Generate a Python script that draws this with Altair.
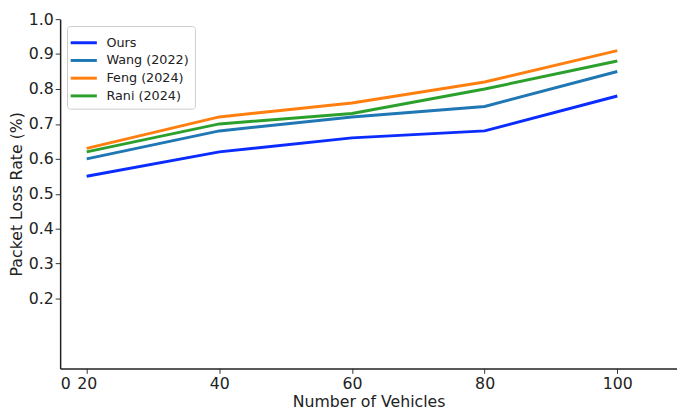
import altair as alt
import pandas as pd

vehicles = [20, 40, 60, 80, 100]
series_names = ["Ours", "Wang (2022)", "Feng (2024)", "Rani (2024)"]
ours = [0.55, 0.62, 0.66, 0.68, 0.78]
wang = [0.60, 0.68, 0.72, 0.75, 0.85]
feng = [0.63, 0.72, 0.76, 0.82, 0.91]
rani = [0.62, 0.70, 0.73, 0.80, 0.88]
colors = ["#0a2cff", "#1f77b4", "#ff7f0e", "#2ca02c"]
y_ticks = [0.2, 0.3, 0.4, 0.5, 0.6, 0.7, 0.8, 0.9, 1.0]
x_ticks = [16, 20, 40, 60, 80, 100]

rows = []
for name, vals in zip(series_names, [ours, wang, feng, rani]):
    for v, p in zip(vehicles, vals):
        rows.append({"Vehicles": v, "Rate": p, "Method": name})
df = pd.DataFrame(rows)

font = "DejaVu Sans"

chart = alt.Chart(df).mark_line(strokeWidth=3).encode(
    x=alt.X("Vehicles:Q",
            scale=alt.Scale(domain=[16, 109], nice=False, zero=False),
            axis=alt.Axis(title="Number of Vehicles", values=x_ticks,
                          labelExpr="datum.value == 16 ? '0' : datum.label",
                          tickColor={"condition": {"test": "datum.value == 16", "value": "transparent"}, "value": "#333"},
                          grid=False, domainColor="#222", domainWidth=1.5,
                          tickSize=5, labelPadding=2, titlePadding=3,
                          labelFontSize=16, titleFontSize=16, titleFontWeight="normal",
                          labelColor="#222", titleColor="#222", labelFont=font, titleFont=font)),
    y=alt.Y("Rate:Q",
            scale=alt.Scale(domain=[0, 1], nice=False),
            axis=alt.Axis(title="Packet Loss Rate (%)", values=y_ticks, format=".1f",
                          grid=False, domainColor="#222", domainWidth=1.5, tickColor="#333",
                          tickSize=5, labelPadding=2, titlePadding=4,
                          labelFontSize=16, titleFontSize=16, titleFontWeight="normal",
                          labelColor="#222", titleColor="#222", labelFont=font, titleFont=font)),
    color=alt.Color("Method:N",
                    scale=alt.Scale(domain=series_names, range=colors),
                    sort=series_names,
                    legend=alt.Legend(title=None, orient="top-left", offset=7,
                                      symbolType="M-1.4,0L1.4,0", symbolStrokeWidth=3, symbolSize=361,
                                      labelFontSize=13, labelFont=font, labelColor="#222",
                                      labelOffset=12, rowPadding=0, strokeColor="#ccc", fillColor="white",
                                      padding=6, cornerRadius=3)),
).properties(width=627, height=355, padding={"left": 0, "top": 0, "right": 0, "bottom": 0}).configure_view(stroke=None)

chart.save("out.html", embed_options={"renderer": "svg", "actions": False})
